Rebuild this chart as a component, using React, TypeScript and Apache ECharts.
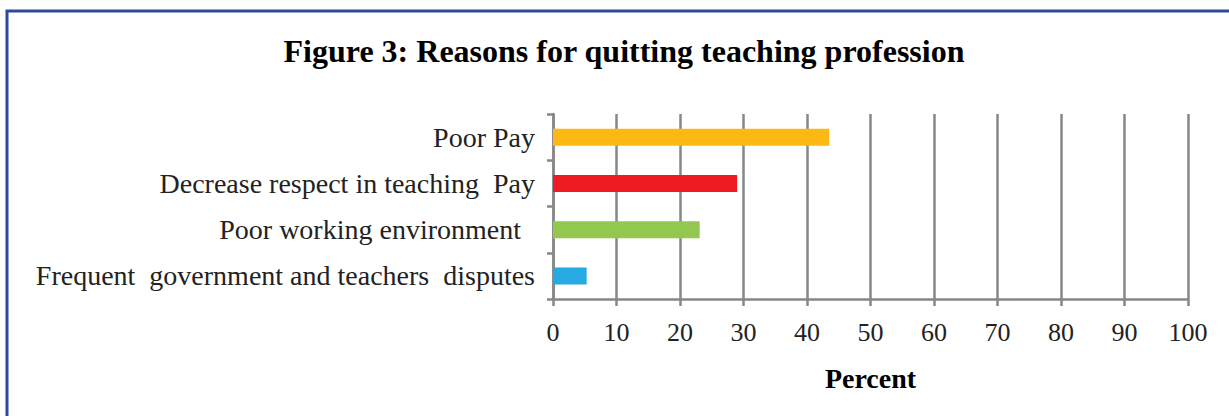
import React, { useEffect, useRef } from "react";
import * as echarts from "echarts";

const categories = [
  "Poor Pay",
  "Decrease respect in teaching  Pay",
  "Poor working environment  ",
  "Frequent  government and teachers  disputes",
];
const values = [43.5, 29, 23.1, 5.3];
const barColors = ["#FDB913", "#ED1C24", "#92C850", "#27AAE1"];
const xTicks = { min: 0, max: 100, interval: 10 };
const titleText = "Figure 3: Reasons for quitting teaching profession";
const xName = "Percent";

const FONT = "'Liberation Serif', 'DejaVu Serif', serif";
const GRAY = "#878787";

export default function App() {
  const ref = useRef<HTMLDivElement>(null);
  useEffect(() => {
    if (!ref.current) return;
    const chart = echarts.init(ref.current, null, { renderer: "svg" });
    chart.setOption({
      animation: false,
      backgroundColor: "#ffffff",
      graphic: [
        {
          type: "rect",
          shape: { x: 7, y: 11, width: 1300, height: 500 },
          style: { fill: "none", stroke: "#2E4B9B", lineWidth: 3 },
          silent: true,
        },
      ],
      title: {
        text: titleText,
        left: 619,
        top: 30,
        textAlign: "center",
        textStyle: { fontFamily: FONT, fontWeight: "bold", fontSize: 32, color: "#000" },
      },
      grid: { left: 553, right: 41, top: 114, bottom: 117, containLabel: false },
      xAxis: {
        type: "value",
        min: xTicks.min,
        max: xTicks.max,
        interval: xTicks.interval,
        name: xName,
        nameLocation: "middle",
        nameGap: 65,
        nameTextStyle: { fontFamily: FONT, fontWeight: "bold", fontSize: 28, color: "#000" },
        axisLine: { show: true, lineStyle: { color: GRAY, width: 2.5 } },
        axisTick: { show: true, length: 7, lineStyle: { color: GRAY, width: 2.5 } },
        axisLabel: { fontFamily: FONT, fontSize: 26, color: "#222", margin: 20 },
        splitLine: { show: true, lineStyle: { color: GRAY, width: 2.5 } },
      },
      yAxis: {
        type: "category",
        data: categories,
        inverse: true,
        axisLine: { show: true, lineStyle: { color: GRAY, width: 2.5 } },
        axisTick: { show: true, length: 6, lineStyle: { color: GRAY, width: 2.5 } },
        axisLabel: { fontFamily: FONT, fontSize: 28, color: "#222", margin: 18 },
        splitLine: { show: false },
      },
      series: [
        {
          type: "bar",
          data: values.map((v, i) => ({ value: v, itemStyle: { color: barColors[i] } })),
          barWidth: 17,
        },
      ],
    });
    return () => chart.dispose();
  }, []);
  return (
    <div
      ref={ref}
      style={{ position: "fixed", left: 0, top: 0, width: 1229, height: 416 }}
    />
  );
}
